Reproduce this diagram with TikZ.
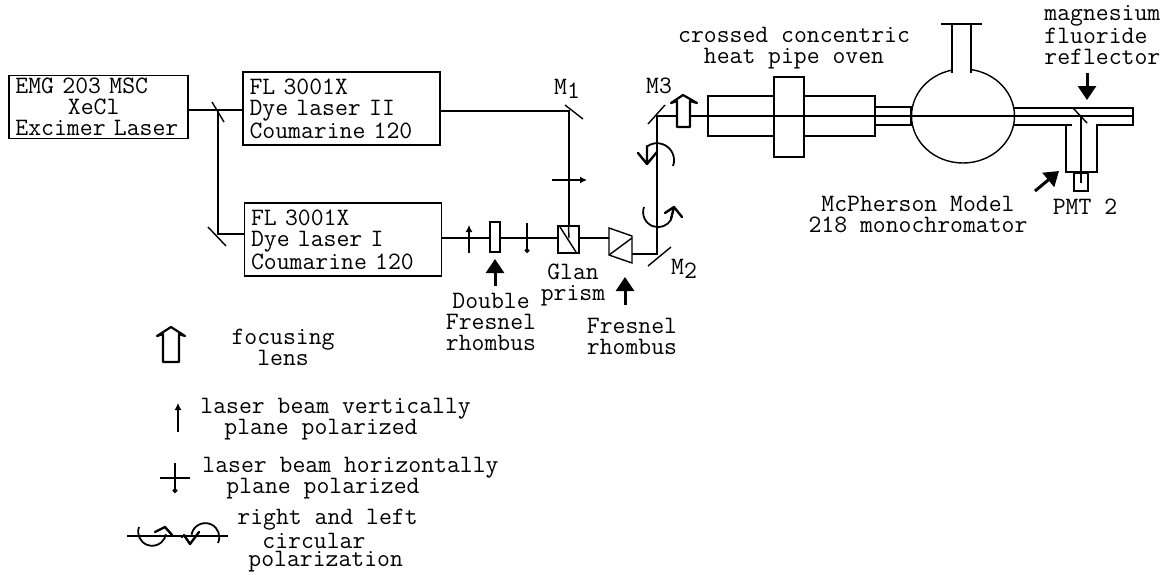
\documentclass[tikz,border=0pt]{standalone}
\usetikzlibrary{arrows.meta,calc}
\begin{document}
\begin{tikzpicture}[x=0.5pt,y=-0.5pt,>=Latex,font=\ttfamily\fontsize{12.5}{10.5}\selectfont,
box/.style={draw,line width=0.7pt,inner xsep=3.2pt,inner ysep=0pt,align=left},
beam/.style={line width=0.7pt},
part/.style={draw,line width=0.7pt,fill=white},
lbl/.style={inner sep=0pt,align=center},
lbll/.style={inner sep=0pt,anchor=west},
pol/.style={line width=0.6pt,-{Latex[length=3.5pt,width=3.5pt]}},
poldot/.style={line width=0.6pt,-{Circle[length=2.4pt]}},
hand/.style={line width=1.2pt,line join=round,line cap=round},
turnarc/.style={line width=0.9pt},
marker/.style={line width=1.5pt,-{Triangle[length=7pt,width=9pt]}},
lens/.style={draw,line width=1.1pt,fill=white,line join=round}]
\useasboundingbox (0,0) rectangle (1172,574);
% lasers
\node[box,text width=83pt,minimum height=31.5pt] (excimer) at (98.5,107) {EMG 203 MSC\\\hspace*{26.2pt}XeCl\\Excimer Laser};
\node[box,text width=92pt,minimum height=36.5pt] (dyeII) at (341.5,108.5) {FL 3001X\\Dye laser II\\Coumarine 120};
\node[box,text width=92pt,minimum height=36.5pt] (dyeI) at (343,239.5) {FL 3001X\\Dye laser I\\Coumarine 120};
% beam corners
\coordinate (split) at (218,110);
\coordinate (turn) at (218,234);
\coordinate (m1) at (569,111);
\coordinate (glan) at (569,238);
\coordinate (m2) at (657,254);
\coordinate (m3) at (657,116);
\coordinate (end) at (1133,116);
\coordinate (pmtend) at (1081,183);
% oven and monochromator, under the beam
\node[part,minimum width=83.5pt,minimum height=20pt,inner sep=0pt] (oven) at (791.5,116) {};
\node[part,minimum width=15pt,minimum height=40pt,inner sep=0pt] (flange) at (789,117) {};
\node[part,minimum width=18pt,minimum height=9pt,inner sep=0pt] (tube) at (893,116) {};
\draw[beam] (1014,108)--(1133,108)--(1133,125)--(1097,125)--(1097,172)--(1066,172)--(1066,125);
\draw[beam] (1014,125)--(1072,125);
\node[part,minimum width=7pt,minimum height=9pt,inner sep=0pt] (pmt) at (1081,182) {};
\draw[beam,fill=white] (963,116) ellipse (51.5 and 47);
\fill[white] (953,60) rectangle (970,76);
\draw[beam] (952,73)--(952,24) (971,73)--(971,24) (941,24)--(982,24);
% beams
\draw[beam] (excimer.east|-split)--(dyeII.west|-split);
\draw[beam] (split)--(turn)--(dyeI.west|-turn);
\draw[beam] (dyeII.east|-m1)--(m1)--(glan);
\draw[beam] (dyeI.east|-glan)--(609,238);
\draw[beam] (632,254)--(m2)--(m3)--(end);
\draw[beam] (1081,116)--(pmtend);
% mirrors
\draw[beam] (212,102)--(224,122);
\draw[beam] (208,227)--(226,246);
\draw[beam] (565,105)--(583,119);
\draw[beam] (648,266)--(671,247);
\draw[beam] (648,124)--(665,105);
\draw[beam] (1073,108)--(1087,123);
% polarizers and prisms
\node[part,minimum width=5pt,minimum height=15pt,inner sep=0pt] (double) at (495,237) {};
\node[part,minimum width=10.5pt,minimum height=13.5pt,inner sep=0pt] (prism) at (568.5,239.5) {};
\draw[beam] (560,227)--(576,252) (prism.north)--(569,238);
\draw[part] (609,228)--(632,236)--(632,263)--(609,255)--cycle;
\draw[beam] (609,255)--(632,238);
\draw[pol] (469,253)--(469,225);
\draw[poldot] (527,223)--(527,253);
\draw[pol] (552,180)--(587,180);
% lens on the beam
\draw[lens] (677,127)--(677,101)--(671,103)--(683,95)--(697,103)--(690,101)--(690,127)--cycle;
% circular polarization on the beam
\draw[turnarc] (673,166) arc (20:-125:17);
\draw[hand] (638,153)--(647,164)--(657,152) (647,164)--(647,146);
\draw[turnarc] (644,207) arc (200:30:15);
\draw[hand] (665,213)--(674,207)--(682,217) (671,219)--(674,207);
% marker arrows
\draw[marker] (495,286)--(495,259);
\draw[marker] (625,305)--(625,277);
\draw[marker] (1087,73)--(1087,100);
\draw[marker] (1035,191)--(1059,171);
% labels
\node[lbl] (m1lbl) at (567,89) {M\raisebox{-2pt}{1}};
\node[lbl] (m3lbl) at (659,86) {M3};
\node[lbl] (m2lbl) at (684,269) {M\raisebox{-2pt}{2}};
\node[lbl] (glanlbl) at (573,285) {Glan\\prism};
\node[lbl] (doublelbl) at (491,322) {Double\\Fresnel\\rhombus};
\node[lbl] (fresnellbl) at (632,336) {Fresnel\\rhombus};
\node[lbl] (ovenlbl) at (794,48) {crossed concentric\\heat pipe oven};
\node[lbl,align=left,anchor=west] (mgflbl) at (1044,35) {magnesium\\fluoride\\reflector};
\node[lbl] (monolbl) at (918,215) {McPherson Model\\218 monochromator};
\node[lbl] (pmtlbl) at (1085,207) {PMT 2};
% legend
\draw[lens] (163,362)--(163,334)--(157,336)--(171,327)--(185,336)--(179,334)--(179,362)--cycle;
\node[lbl] (focuslbl) at (283,347) {focusing\\lens};
\coordinate (va) at (178,432);
\coordinate (vb) at (178,403);
\draw[pol] (va)--(vb);
\node[lbll] (vlbl) at (200,409) {laser beam vertically};
\node[lbll] (vlblb) at (224,430) {plane polarized};
\coordinate (ha) at (175,463);
\coordinate (hb) at (175,493);
\draw[poldot] (ha)--(hb);
\draw[beam] (160,478)--(190,478);
\node[lbll] (hlbl) at (202,468) {laser beam horizontally};
\node[lbll] (hlblb) at (226,489) {plane polarized};
\draw[beam] (127,536)--(228,536);
\draw[turnarc] (139,527) arc (200:10:14);
\draw[hand] (155,532)--(165,527)--(172,535);
\draw[turnarc] (218,543) arc (25:-170:14);
\draw[hand] (184,535)--(190,544)--(199,532);
\fill (182,537) circle (1.4);
\node[lbll] (clbla) at (237,520) {right and left};
\node[lbll] (clblb) at (262,541) {circular};
\node[lbll] (clblc) at (248,562) {polarization};
\end{tikzpicture}
\end{document}
